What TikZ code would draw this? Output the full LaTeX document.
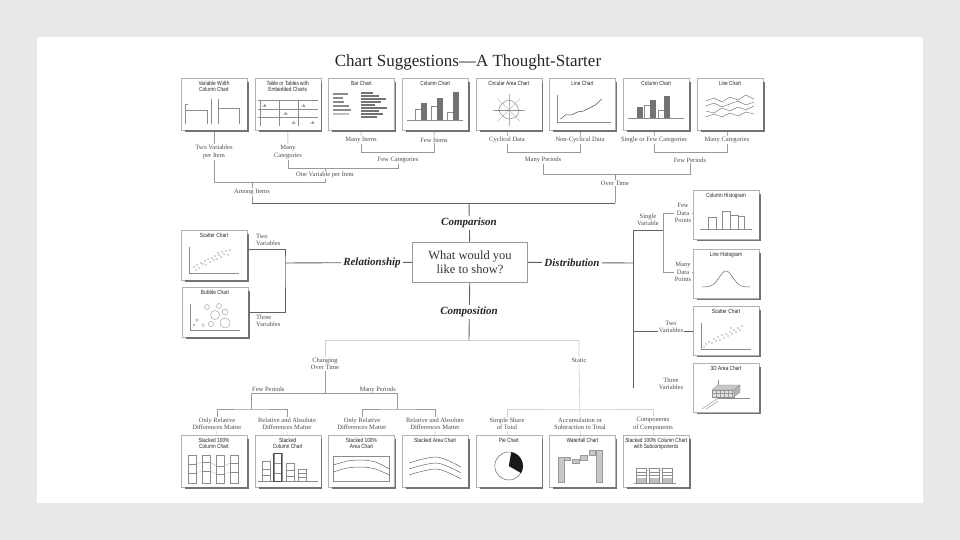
\documentclass[tikz,border=0pt]{standalone}
\usepackage{fontspec}
\setmainfont{Liberation Serif}
\setsansfont{Liberation Sans}[FakeStretch=0.8]
\usetikzlibrary{positioning, backgrounds, calc}

\begin{document}
\begin{tikzpicture}[
    x=1pt, y=-1pt,
    chart/.style={rectangle, draw=black!30, line width=0.4pt, fill=white, minimum width=66pt, minimum height=52pt, inner sep=0pt},
    sidechart/.style={chart, minimum height=49pt},
    chtitle/.style={anchor=north, yshift=-3pt, font=\sffamily\fontsize{6}{6.6}\selectfont, text=black!85, align=center, inner sep=0pt},
    ctitle/.style={label={[chtitle]north:{#1}}},
    lbl/.style={font=\fontsize{6.5}{7.2}\selectfont, text=black!70, align=center, fill=white, inner sep=1pt},
    branch/.style={font=\bfseries\itshape\fontsize{11}{12}\selectfont, text=black!85, fill=white, inner sep=2pt},
    mainline/.style={draw=black!62, line width=0.9pt},
    treeline/.style={draw=black!40, line width=0.6pt},
    faintline/.style={draw=black!18, line width=0.6pt},
    shadowline/.style={draw=black!55, line width=1.4pt},
    cline/.style={draw=black!45, line width=0.4pt}
]
\useasboundingbox (0,0) rectangle (960,540);

% Title
\node[font=\fontsize{17}{19}\selectfont, text=black!85] (title) at (468,62) {Chart Suggestions---A Thought-Starter};

% Top row of charts
\node[chart, ctitle={Variable Width\\Column Chart}] (tVW) at (214,104) {};
\node[chart, ctitle={Table or Tables with\\Embedded Charts}, right=7.3pt of tVW] (tTE) {};
\node[chart, ctitle={Bar Chart}, right=7.3pt of tTE] (tBar) {};
\node[chart, ctitle={Column Chart}, right=7.3pt of tBar] (tCol) {};
\node[chart, ctitle={Circular Area Chart}, right=7.3pt of tCol] (tCirc) {};
\node[chart, ctitle={Line Chart}, right=7.3pt of tCirc] (tLine) {};
\node[chart, ctitle={Column Chart}, right=7.3pt of tLine] (tColT) {};
\node[chart, ctitle={Line Chart}, right=7.3pt of tColT] (tLineT) {};

% Left charts
\node[chart, minimum height=50pt, ctitle={Scatter Chart}] (tScatter) at (214,255) {};
\node[chart, minimum height=50pt, ctitle={Bubble Chart}] (tBubble) at (215,312) {};

% Right charts
\node[sidechart, ctitle={Column Histogram}] (tColHist) at (726,215) {};
\node[sidechart, ctitle={Line Histogram}] (tLineHist) at (726,274) {};
\node[sidechart, ctitle={Scatter Chart}] (tScatterD) at (726,331) {};
\node[sidechart, ctitle={3D Area Chart}] (t3D) at (726,388) {};

% Bottom row of charts
\node[chart, ctitle={Stacked 100\%\\Column Chart}] (bStack100) at (214,461) {};
\node[chart, ctitle={Stacked\\Column Chart}, right=7.3pt of bStack100] (bStack) {};
\node[chart, ctitle={Stacked 100\%\\Area Chart}, right=7.3pt of bStack] (bArea100) {};
\node[chart, ctitle={Stacked Area Chart}, right=7.3pt of bArea100] (bArea) {};
\node[chart, ctitle={Pie Chart}, right=7.3pt of bArea] (bPie) {};
\node[chart, ctitle={Waterfall Chart}, right=7.3pt of bPie] (bWater) {};
\node[chart, ctitle={Stacked 100\% Column Chart\\with Subcomponents}, right=7.3pt of bWater] (bSub) {};

% Box shadows
\foreach \n in {tVW,tTE,tBar,tCol,tCirc,tLine,tColT,tLineT,tScatter,tBubble,tColHist,tLineHist,tScatterD,t3D,bStack100,bStack,bArea100,bArea,bPie,bWater,bSub}
  \draw[shadowline] ([shift={(0.7,4)}]\n.north east) -- ([shift={(0.7,0.7)}]\n.south east) -- ([shift={(4,0.7)}]\n.south west);

% Question box and branches
\node[draw=black!40, line width=0.6pt, fill=white, minimum width=115pt, minimum height=40pt, align=center,
      font=\fontsize{12.5}{14}\selectfont, text=black!80] (qbox) at (470,262) {What would you\\like to show?};
\node[branch] (lComparison) at (469,223) {Comparison};
\node[branch] (lComposition) at (469,312) {Composition};
\node[branch] (lRelationship) at (372,263) {Relationship};
\node[branch] (lDistribution) at (572,263) {Distribution};

% Comparison labels
\node[lbl] (lTwoVar) at (214,152) {Two Variables\\per Item};
\node[lbl] (lManyCat) at (288,152) {Many\\Categories};
\node[lbl] (lManyItems) at (361,140) {Many Items};
\node[lbl] (lFewItems) at (434,140) {Few Items};
\node[lbl] (lFewCat) at (398,160) {Few Categories};
\node[lbl] (lOneVar) at (325,175) {One Variable per Item};
\node[lbl] (lAmong) at (252,192) {Among Items};
\node[lbl] (lCyc) at (507,140) {Cyclical Data};
\node[lbl] (lNonCyc) at (580,140) {Non-Cyclical Data};
\node[lbl] (lSingle) at (654,140) {Single or Few Categories};
\node[lbl] (lManyCatT) at (727,140) {Many Categories};
\node[lbl] (lManyPer) at (543,160) {Many Periods};
\node[lbl] (lFewPer) at (690,160) {Few Periods};
\node[lbl] (lOverTime) at (615,183) {Over Time};

% Relationship labels
\node[lbl, anchor=west, align=left, fill=none] (lTwoVarR) at (255,240) {Two\\Variables};
\node[lbl, anchor=west, align=left, fill=none] (lThreeVarR) at (255,321) {Three\\Variables};

% Distribution labels
\node[lbl, fill=none] (lSingleVar) at (648,220) {Single\\Variable};
\node[lbl] (lFewData) at (683,213) {Few\\Data\\Points};
\node[lbl] (lManyData) at (683,272) {Many\\Data\\Points};
\node[lbl] (lTwoVarD) at (671,327) {Two\\Variables};
\node[lbl, fill=none] (lThreeVarD) at (671,384) {Three\\Variables};

% Composition labels
\node[lbl] (lChanging) at (325,364) {Changing\\Over Time};
\node[lbl] (lStatic) at (579,360) {Static};
\node[lbl, fill=none, anchor=base west] (lFewPerB) at (251,391) {Few Periods};
\node[lbl, fill=none, anchor=base east] (lManyPerB) at (397,391) {Many Periods};
\node[lbl] (lOnlyRelA) at (217,424) {Only Relative\\Differences Matter};
\node[lbl] (lRelAbsA) at (287,424) {Relative and Absolute\\Differences Matter};
\node[lbl] (lOnlyRelB) at (362,424) {Only Relative\\Differences Matter};
\node[lbl] (lRelAbsB) at (435,424) {Relative and Absolute\\Differences Matter};
\node[lbl] (lSimple) at (507,424) {Simple Share\\of Total};
\node[lbl] (lAccum) at (580,424) {Accumulation or\\Subtraction to Total};
\node[lbl] (lComponents) at (653,424) {Components\\of Components};

% Junctions
\coordinate (cTop) at (469,203);
\coordinate (cRel) at (285,263);
\coordinate (cDist) at (633,263);
\coordinate (cSingle) at (663,230);
\coordinate (cDistEnd) at (633,388);
\coordinate (cBot) at (469,340);
\coordinate (cPerL) at (251,393);
\coordinate (cPerR) at (397,393);
\coordinate (cSub) at (0,409);

% Mini charts: top row
\begin{scope}[shift={(tVW.center)}]
  \draw[cline] (-29,20) -- (-29,0) -- (-26,0);
  \draw[cline] (-29,6) -- (-7,6) -- (-7,20);
  \draw[cline] (-3,-5) -- (-3,20);
  \draw[cline] (4,-5) -- (4,20);
  \draw[cline] (4,4) -- (25,4) -- (25,20);
\end{scope}
\begin{scope}[shift={(tTE.center)}]
  \draw[cline] (-30,-4) -- (30,-4);
  \draw[cline] (-30,5) -- (30,5);
  \draw[cline] (-30,13) -- (30,13);
  \draw[cline] (-28,-4) -- (-28,22);
  \draw[cline] (-9,-4) -- (-9,22);
  \draw[cline] (10,-4) -- (10,22);
  \foreach \cx/\cy in {-25/3, 14/3, -4/11, 4/20, 23/20}
    \fill[black!55] (\cx,\cy) rectangle ++(0.7,-1.5) (\cx+1.3,\cy) rectangle ++(0.7,-3.2) (\cx+2.6,\cy) rectangle ++(0.7,-2.2);
\end{scope}
\begin{scope}[shift={(tBar.center)}]
  \foreach \yy/\len in {-11/14,-7/9,-3/10,1/15,5/17}
    \draw[cline] (-28,\yy) rectangle ++(\len,1.5);
  \fill[black!25] (-28,9) rectangle ++(16,2.5);
  \foreach \yy/\len in {-12/12,-9/18,-6/25,-3/20,0/14,3/26,6/18,9/22,12/16}
    \fill[black!55] (0,\yy) rectangle ++(\len,2.2);
\end{scope}
\begin{scope}[shift={(tCol.center)}]
  \draw[cline] (-28,16) -- (28,16);
  \draw[cline, fill=white] (-20,16) rectangle (-14,5);
  \fill[black!55] (-14,16) rectangle (-8,-1);
  \draw[cline, fill=white] (-4,16) rectangle (2,2);
  \fill[black!55] (2,16) rectangle (8,-6);
  \draw[cline, fill=white] (12,16) rectangle (18,8);
  \fill[black!55] (18,16) rectangle (24,-12);
\end{scope}
\begin{scope}[shift={(tCirc.center)}]
  \foreach \a in {0,45,...,315}
    \draw[black!30, line width=0.3pt] (0,6) -- ++(\a:16);
  \draw[cline, line width=0.5pt] plot[smooth cycle, tension=0.6] coordinates {(10,6) (6,-1) (0,-4) (-7,0) (-10,6) (-6,12) (0,15) (8,12)};
  \draw[cline] (-14,6) -- (14,6);
\end{scope}
\begin{scope}[shift={(tLine.center)}]
  \draw[cline] (-25,-9) -- (-25,18) -- (28,18);
  \draw[black!70, line width=0.5pt] (-22,15) -- (-17,11) -- (-11,11) -- (-5,8) -- (1,7) -- (7,4) -- (13,1) -- (19,-5);
\end{scope}
\begin{scope}[shift={(tColT.center)}]
  \draw[cline] (-28,14) -- (28,14);
  \fill[black!55] (-19,14) rectangle (-13,3);
  \draw[cline, fill=white] (-12,14) rectangle (-6,1);
  \fill[black!55] (-6,14) rectangle (0,-4);
  \draw[cline, fill=white] (2,14) rectangle (8,6);
  \fill[black!55] (8,14) rectangle (14,-8);
\end{scope}
\begin{scope}[shift={(tLineT.center)}]
  \draw[black!60, line width=0.4pt] (-24,-3) -- (-16,-6) -- (-8,-2) -- (0,-7) -- (8,-4) -- (16,-9) -- (24,-5);
  \draw[black!60, line width=0.4pt] (-24,2) -- (-16,-1) -- (-8,3) -- (0,0) -- (8,-3) -- (16,1) -- (24,-2);
  \draw[black!60, line width=0.4pt] (-24,7) -- (-16,9) -- (-8,4) -- (0,7) -- (8,3) -- (16,6) -- (24,2);
  \draw[black!60, line width=0.4pt] (-24,13) -- (-16,10) -- (-8,13) -- (0,9) -- (8,12) -- (16,8) -- (24,10);
\end{scope}

% Mini charts: left
\begin{scope}[shift={(tScatter.center)}]
  \draw[cline] (-25,-8) -- (-25,18) -- (25,18);
  \foreach \px/\py in {-20/12,-17/10,-15/13,-13/8,-11/9,-9/6,-8/10,-6/4,-4/7,-2/3,0/5,1/1,3/4,5/0,7/2,8/-3,10/-1,12/-4,14/0,-18/15,4/-2,16/-5}
    \fill[black!70] (\px,\py) circle[radius=0.6];
\end{scope}
\begin{scope}[shift={(tBubble.center)}]
  \draw[cline] (-25,-8) -- (-25,18) -- (25,18);
  \foreach \px/\py/\r in {-8/-5/2.5, 4/-6/2.5, 10/0/3, 0/3/4.5, -18/8/1.3, -12/13/1.5, -4/12/2.6, 10/11/5, -21/13/1}
    \draw[black!45, line width=0.35pt] (\px,\py) circle[radius=\r];
\end{scope}

% Mini charts: right
\begin{scope}[shift={(tColHist.center)}]
  \draw[cline] (-26,14) -- (26,14);
  \draw[cline] (-18,14) rectangle (-10,2);
  \draw[cline] (-4,14) rectangle (4,-4);
  \draw[cline] (4,14) rectangle (12,0);
  \draw[cline] (12,14) rectangle (18,1);
\end{scope}
\begin{scope}[shift={(tLineHist.center)}]
  \draw[black!60, line width=0.5pt] plot[domain=-24:24, samples=40, smooth] (\x, {13-16*exp(-((\x)*(\x))/90)});
\end{scope}
\begin{scope}[shift={(tScatterD.center)}]
  \draw[cline] (-25,-8) -- (-25,18) -- (25,18);
  \foreach \px/\py in {-20/13,-17/11,-14/12,-12/8,-10/10,-8/6,-6/9,-4/4,-2/7,0/3,2/5,4/1,6/3,8/-1,10/1,12/-3,14/-1,-22/16,16/-5,5/-3}
    \fill[black!70] (\px,\py) circle[radius=0.6];
\end{scope}
\begin{scope}[shift={(t3D.center)}]
  \draw[cline] (-8,-8) -- (-8,10) -- (24,10);
  \draw[cline] (-8,10) -- (-24,21);
  \draw[cline] (-20,21) -- (-8,13);
  \fill[black!12, draw=black!45, line width=0.3pt] (-14,2) rectangle (8,9);
  \fill[black!22, draw=black!45, line width=0.3pt] (-14,2) -- (-8,-3) -- (14,-3) -- (8,2) -- cycle;
  \fill[black!30, draw=black!45, line width=0.3pt] (8,2) -- (14,-3) -- (14,4) -- (8,9) -- cycle;
  \foreach \gx in {-10,-6,...,6}
    \draw[black!40, line width=0.2pt] (\gx,2) -- (\gx,9);
  \draw[black!40, line width=0.2pt] (-14,5.5) -- (8,5.5);
\end{scope}

% Mini charts: bottom row
\begin{scope}[shift={(bStack100.center)}]
  \foreach \cx/\a/\b in {-26/3/12, -12/1/10, 2/5/13, 16/2/11} {
    \draw[cline] (\cx,-6) rectangle ++(8,28);
    \draw[cline] (\cx,\a) -- ++(8,0) (\cx,\b) -- ++(8,0);
  }
  \draw[black!30, line width=0.3pt] (-18,3) -- (-12,1) (-4,1) -- (2,5) (10,5) -- (16,2);
  \draw[black!30, line width=0.3pt] (-18,12) -- (-12,10) (-4,10) -- (2,13) (10,13) -- (16,11);
\end{scope}
\begin{scope}[shift={(bStack.center)}]
  \draw[cline] (-30,20) -- (30,20);
  \foreach \cx/\t/\a/\b in {-26/0/8/14, -14/-8/2/12, -2/2/9/15, 10/8/12/16} {
    \draw[cline] (\cx,20) rectangle (\cx+8,\t);
    \draw[cline] (\cx,\a) -- ++(8,0) (\cx,\b) -- ++(8,0);
  }
  \draw[black!70, line width=0.7pt] (-14,20) rectangle (-6,-8);
  \draw[black!30, dashed, line width=0.3pt] (-18,0) -- (-14,-8) (-6,2) -- (-2,2) (6,9) -- (10,8) (18,8) -- (26,8);
\end{scope}
\begin{scope}[shift={(bArea100.center)}]
  \draw[cline] (-28,-5) rectangle (28,20);
  \draw[black!60, line width=0.5pt] plot[smooth] coordinates {(-28,4) (-14,0) (0,-1) (14,1) (28,8)};
  \draw[black!60, line width=0.5pt] plot[smooth] coordinates {(-28,11) (-14,7) (0,6) (14,8) (28,14)};
\end{scope}
\begin{scope}[shift={(bArea.center)}]
  \foreach \dy in {0,6,12}
    \draw[black!60, line width=0.5pt] plot[smooth] coordinates {(-26,2+\dy) (-12,-2+\dy) (2,-4+\dy) (14,0+\dy) (26,6+\dy)};
\end{scope}
\begin{scope}[shift={(bPie.center)}]
  \draw[black!60, line width=0.5pt] (0,5) circle[radius=14];
  \fill[black!90] (0,5) -- plot[domain=-80:30, samples=20] ({14*cos(\x)},{5+14*sin(\x)}) -- cycle;
\end{scope}
\begin{scope}[shift={(bWater.center)}]
  \fill[black!22, draw=black!40, line width=0.3pt] (-24,-4) rectangle (-18,21);
  \fill[black!22, draw=black!40, line width=0.3pt] (-18,-4) rectangle (-12,-1);
  \fill[black!22, draw=black!40, line width=0.3pt] (-10,-2) rectangle (-3,2);
  \fill[black!22, draw=black!40, line width=0.3pt] (-2,-6) rectangle (5,-1);
  \fill[black!22, draw=black!40, line width=0.3pt] (7,-11) rectangle (13,-6);
  \fill[black!22, draw=black!40, line width=0.3pt] (14,-11) rectangle (20,21);
\end{scope}
\begin{scope}[shift={(bSub.center)}]
  \draw[cline] (-22,22) -- (20,22);
  \foreach \cx in {-20,-7,6} {
    \fill[black!25] (\cx,17) rectangle ++(10,5);
    \draw[cline] (\cx,7) rectangle ++(10,15);
    \draw[cline] (\cx,11) -- ++(10,0) (\cx,14) -- ++(10,0);
  }
  \draw[black!35, line width=0.3pt] (-10,11) -- (-7,7) (3,11) -- (6,7);
\end{scope}

% Background and connectors
\begin{scope}[on background layer]
  \fill[black!9] (0,0) rectangle (960,540);
  \fill[white] (37,37) rectangle (923,503);

  % Comparison tree
  \draw[treeline] (tVW) -- (lTwoVar);
  \draw[treeline] (tTE) -- (lManyCat);
  \draw[treeline] (tBar) -- (lManyItems);
  \draw[treeline] (tCol) -- (lFewItems);
  \draw[treeline] (lManyItems) |- ([yshift=4pt]lFewCat.north) -| (lFewItems);
  \draw[treeline] (lFewCat) |- ([yshift=3pt]lOneVar.north) -| (lManyCat);
  \draw[treeline] ([yshift=3pt]lOneVar.north) -- (lOneVar);
  \draw[treeline] (lTwoVar) |- ([yshift=6pt]lAmong.north) -| (lOneVar);
  \draw[treeline] ([yshift=6pt]lAmong.north) -- (lAmong |- cTop);
  \draw[treeline] (tCirc) -- (lCyc);
  \draw[treeline] (tLine) -- (lNonCyc);
  \draw[treeline] (tColT) -- (lSingle);
  \draw[treeline] (tLineT) -- (lManyCatT);
  \draw[treeline] (lCyc) |- ([yshift=4pt]lManyPer.north) -| (lNonCyc);
  \draw[treeline] (lSingle) |- ([yshift=4pt]lFewPer.north) -| (lManyCatT);
  \draw[treeline] (lManyPer) |- ([yshift=5pt]lOverTime.north) -| (lFewPer);
  \draw[treeline] ([yshift=5pt]lOverTime.north) -- (lOverTime |- cTop);
  \draw[mainline] (lAmong |- cTop) -- (lOverTime |- cTop);
  \draw[mainline] (cTop) -- (qbox);

  % Relationship
  \draw[mainline] (qbox) -- (cRel);
  \draw[mainline] ([yshift=6pt]tScatter.east) -| (cRel) |- (tBubble.east);

  % Distribution
  \draw[mainline] (qbox) -- (cDist);
  \draw[mainline] (cDist |- cSingle) -- (cSingle);
  \draw[mainline] (cDist |- cSingle) -- (cDistEnd);
  \draw[treeline] (lFewData.west) -| (cSingle) |- (lManyData.west);
  \draw[treeline] (lFewData) -- (lFewData -| tColHist);
  \draw[treeline] (lManyData) -- (lManyData -| tLineHist);
  \draw[mainline] (cDist |- tScatterD) -- (tScatterD);

  % Composition
  \draw[mainline] (qbox) -- (cBot);
  \draw[faintline] (lChanging |- cBot) -- (lStatic |- cBot);
  \draw[faintline] (lChanging |- cBot) -- (lChanging);
  \draw[treeline] (lChanging) -- (lChanging |- cPerL);
  \draw[treeline] (cPerL) -- (cPerR);
  \draw[treeline] (cPerL) -- (cPerL |- cSub);
  \draw[treeline] (cPerR) -- (cPerR |- cSub);
  \draw[treeline] (lOnlyRelA) |- (cPerL |- cSub) -| (lRelAbsA);
  \draw[treeline] (lOnlyRelB) |- (cPerR |- cSub) -| (lRelAbsB);
  \draw[faintline] (lStatic |- cBot) -- (lStatic) -- (lAccum);
  \draw[faintline] (lSimple) |- (lStatic |- cSub) -| (lComponents);
  \foreach \l/\b in {lOnlyRelA/bStack100, lRelAbsA/bStack, lOnlyRelB/bArea100, lRelAbsB/bArea, lSimple/bPie, lAccum/bWater, lComponents/bSub}
    \draw[faintline] (\l) -- (\b);
\end{scope}

\end{tikzpicture}
\end{document}
